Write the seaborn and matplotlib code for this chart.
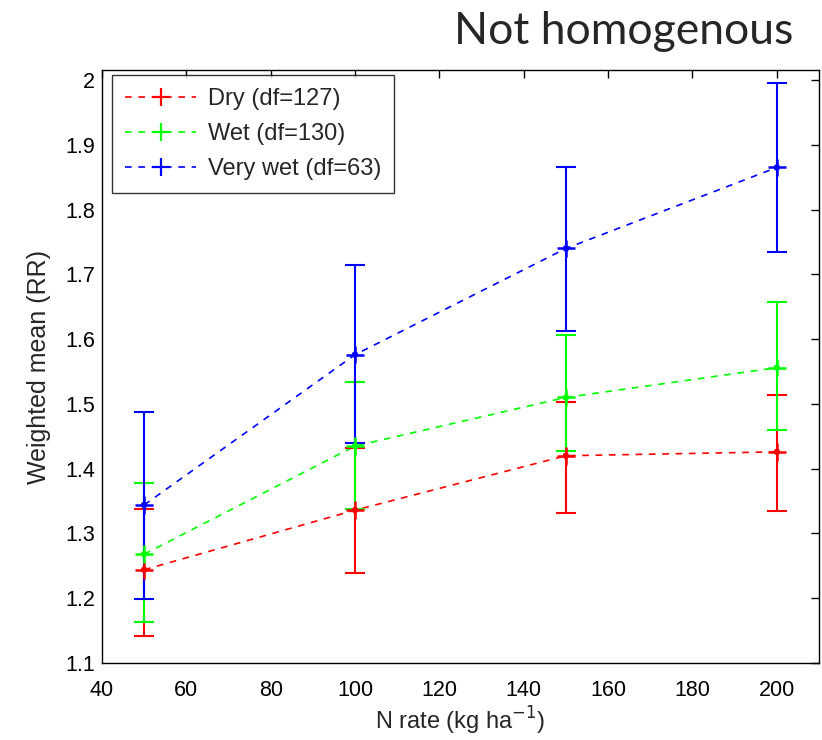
import matplotlib
matplotlib.use("Agg")
import matplotlib.pyplot as plt
import seaborn as sns
import pandas as pd
import numpy as np
from matplotlib.ticker import FuncFormatter, FixedLocator
from matplotlib.lines import Line2D

# ---- data ----
n_rate = [50, 100, 150, 200]
series_names = ["Dry (df=127)", "Wet (df=130)", "Very wet (df=63)"]
dry_mean = [1.244, 1.336, 1.420, 1.426]
dry_low = [1.142, 1.239, 1.332, 1.335]
dry_high = [1.338, 1.432, 1.503, 1.514]
wet_mean = [1.268, 1.435, 1.510, 1.556]
wet_low = [1.163, 1.338, 1.428, 1.459]
wet_high = [1.378, 1.534, 1.607, 1.657]
vwet_mean = [1.344, 1.576, 1.740, 1.865]
vwet_low = [1.199, 1.440, 1.612, 1.735]
vwet_high = [1.488, 1.715, 1.865, 1.995]
colors = ["#ff0000", "#00ff00", "#0000ff"]
x_ticks = [40, 60, 80, 100, 120, 140, 160, 180, 200]
y_ticks = [1.1, 1.2, 1.3, 1.4, 1.5, 1.6, 1.7, 1.8, 1.9, 2.0]

means = [dry_mean, wet_mean, vwet_mean]
lows = [dry_low, wet_low, vwet_low]
highs = [dry_high, wet_high, vwet_high]

rows = []
for name, m in zip(series_names, means):
    for x, v in zip(n_rate, m):
        rows.append({"N rate": x, "mean": v, "series": name})
df = pd.DataFrame(rows)

sns.set_style("white")
plt.rcParams["font.family"] = ["Liberation Sans", "DejaVu Sans"]

fig = plt.figure(figsize=(8.22, 7.40), dpi=100)
ax = fig.add_axes([0.124, 0.104, 0.8724, 0.801])

dash = (0, (4, 4))
sns.lineplot(data=df, x="N rate", y="mean", hue="series", hue_order=series_names,
             palette=colors, ax=ax, legend=False, linestyle=dash, linewidth=1.2)

for name, m, lo, hi, c in zip(series_names, means, lows, highs, colors):
    m = np.array(m); lo = np.array(lo); hi = np.array(hi)
    ax.errorbar(n_rate, m, yerr=[m - lo, hi - m], fmt="none", ecolor=c,
                elinewidth=1.5, capsize=7, capthick=1.5, zorder=3)

sns.scatterplot(data=df, x="N rate", y="mean", hue="series", hue_order=series_names,
                palette=colors, ax=ax, legend=False, marker="+", s=160,
                linewidth=1.8, zorder=4)
sns.scatterplot(data=df, x="N rate", y="mean", hue="series", hue_order=series_names,
                palette=colors, ax=ax, legend=False, marker="o", s=22,
                linewidth=0, zorder=5)

handles = [Line2D([0], [0], color=c, linestyle=dash, linewidth=1.2,
                  marker="+", markersize=13, markeredgewidth=1.6) for c in colors]
leg = ax.legend(handles, series_names, loc="upper left", bbox_to_anchor=(0.0145, 0.992),
                fontsize=17, frameon=True, fancybox=False, edgecolor="black",
                handlelength=3.0, handletextpad=0.5, borderpad=0.55, labelspacing=0.55,
                borderaxespad=0.0)
leg.get_frame().set_linewidth(1.0)

ax.set_xlim(40, 210)
ax.set_ylim(1.1, 2.015)
ax.xaxis.set_major_locator(FixedLocator(x_ticks))
ax.yaxis.set_major_locator(FixedLocator(y_ticks))
ax.yaxis.set_major_formatter(FuncFormatter(lambda v, p: f"{v:g}"))
ax.tick_params(direction="in", length=6, width=1.0, top=True, right=True,
               labelsize=15.5, colors="black")
ax.tick_params(axis="x", pad=12)
ax.tick_params(axis="y", pad=5)
for s in ax.spines.values():
    s.set_visible(True)
    s.set_color("black")
    s.set_linewidth(1.0)

ax.set_xlabel("N rate (kg ha$^{-1}$)", fontsize=17, labelpad=3)
ax.set_ylabel("Weighted mean (RR)", fontsize=18, labelpad=10)

fig.text(0.965, 0.958, "Not homogenous", fontsize=32, ha="right", va="center",
         family=["Lato", "DejaVu Sans"])

fig.savefig("out.png", dpi=100)
